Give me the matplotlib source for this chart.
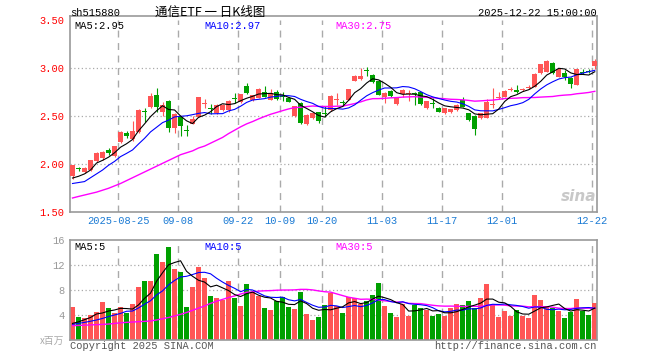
import numpy as np
import pandas as pd
import matplotlib
matplotlib.use("Agg")
import matplotlib.pyplot as plt

# trading days 2025-08-13 .. 2025-12-22 (National Day holiday closed)
dates = pd.bdate_range("2025-08-13", "2025-12-22")
dates = dates[(dates < "2025-10-01") | (dates > "2025-10-08")]

tick_days = ["2025-08-25", "2025-09-08", "2025-09-22", "2025-10-09", "2025-10-20",
             "2025-11-03", "2025-11-17", "2025-12-01", "2025-12-22"]
tick_labels = ["2025-08-25", "09-08", "09-22", "10-09", "10-20",
               "11-03", "11-17", "12-01", "12-22"]

opens = [1.875, 1.965, 1.920, 1.940, 2.035, 2.070, 2.145, 2.085, 2.230, 2.325,
         2.260, 2.340, 2.560, 2.600, 2.720, 2.540, 2.660, 2.375, 2.490, 2.360,
         2.425, 2.495, 2.625, 2.590, 2.530, 2.565, 2.565, 2.690, 2.650, 2.815,
         2.665, 2.695, 2.755, 2.675, 2.755, 2.715, 2.695, 2.500, 2.640, 2.425,
         2.480, 2.540, 2.535, 2.565, 2.670, 2.645, 2.675, 2.870, 2.890, 2.985,
         2.930, 2.870, 2.700, 2.765, 2.630, 2.730, 2.730, 2.745, 2.750, 2.585,
         2.640, 2.590, 2.530, 2.540, 2.565, 2.670, 2.530, 2.505, 2.480, 2.485,
         2.615, 2.695, 2.705, 2.770, 2.775, 2.775, 2.795, 2.810, 2.950, 2.965,
         3.060, 2.910, 2.950, 2.900, 2.830, 2.965, 2.975, 3.020]
highs = [1.995, 1.975, 1.970, 2.050, 2.125, 2.135, 2.165, 2.195, 2.345, 2.345,
         2.455, 2.575, 2.585, 2.745, 2.790, 2.650, 2.670, 2.530, 2.500, 2.410,
         2.500, 2.705, 2.680, 2.625, 2.625, 2.625, 2.665, 2.740, 2.735, 2.850,
         2.725, 2.790, 2.815, 2.780, 2.770, 2.750, 2.705, 2.610, 2.645, 2.520,
         2.530, 2.545, 2.610, 2.720, 2.740, 2.670, 2.785, 2.930, 3.000, 3.010,
         2.940, 2.875, 2.750, 2.770, 2.700, 2.780, 2.770, 2.750, 2.755, 2.660,
         2.690, 2.595, 2.590, 2.580, 2.625, 2.705, 2.535, 2.510, 2.535, 2.680,
         2.790, 2.750, 2.770, 2.810, 2.830, 2.800, 2.830, 2.950, 3.045, 3.085,
         3.065, 2.995, 2.985, 2.905, 2.995, 2.990, 2.990, 3.095]
lows = [1.850, 1.935, 1.910, 1.930, 2.025, 2.040, 2.095, 2.075, 2.220, 2.270,
        2.245, 2.330, 2.445, 2.585, 2.540, 2.500, 2.340, 2.330, 2.300, 2.300,
        2.415, 2.490, 2.590, 2.525, 2.520, 2.555, 2.550, 2.635, 2.640, 2.735,
        2.655, 2.690, 2.700, 2.670, 2.670, 2.655, 2.645, 2.490, 2.420, 2.410,
        2.470, 2.430, 2.495, 2.560, 2.615, 2.605, 2.670, 2.865, 2.880, 2.920,
        2.850, 2.720, 2.640, 2.700, 2.620, 2.700, 2.660, 2.620, 2.620, 2.580,
        2.590, 2.540, 2.520, 2.530, 2.555, 2.600, 2.455, 2.310, 2.470, 2.480,
        2.590, 2.680, 2.700, 2.760, 2.740, 2.760, 2.780, 2.805, 2.945, 2.960,
        2.945, 2.905, 2.880, 2.800, 2.825, 2.940, 2.955, 2.990]
closes = [1.990, 1.950, 1.960, 2.045, 2.120, 2.130, 2.115, 2.190, 2.335, 2.300,
          2.350, 2.570, 2.550, 2.715, 2.600, 2.615, 2.375, 2.525, 2.400, 2.350,
          2.470, 2.705, 2.635, 2.580, 2.615, 2.620, 2.660, 2.685, 2.730, 2.745,
          2.720, 2.780, 2.705, 2.745, 2.680, 2.705, 2.650, 2.605, 2.435, 2.515,
          2.530, 2.455, 2.525, 2.710, 2.680, 2.640, 2.780, 2.920, 2.920, 2.975,
          2.860, 2.720, 2.745, 2.710, 2.695, 2.775, 2.735, 2.735, 2.625, 2.655,
          2.630, 2.550, 2.585, 2.575, 2.620, 2.600, 2.460, 2.370, 2.530, 2.650,
          2.625, 2.705, 2.765, 2.780, 2.750, 2.785, 2.805, 2.945, 3.040, 3.075,
          2.950, 2.990, 2.910, 2.835, 2.990, 2.955, 2.960, 3.080]
# volume, millions
volumes = [5.38, 3.67, 3.50, 4.05, 4.47, 6.18, 5.22, 4.31, 5.38, 4.31,
           5.75, 8.58, 9.54, 9.54, 13.8, 12.58, 14.93, 11.4, 10.92, 5.38,
           8.58, 11.73, 9.97, 7.09, 6.71, 6.45, 9.54, 6.82, 5.49, 9.0,
           7.67, 7.09, 5.22, 4.85, 6.34, 7.0, 5.38, 5.01, 7.78, 4.21,
           3.25, 3.78, 5.65, 7.5, 5.49, 4.37, 6.93, 6.71, 5.86, 6.29,
           7.25, 9.17, 5.49, 4.37, 3.78, 5.86, 3.89, 5.65, 5.17, 4.9,
           3.89, 4.15, 3.89, 5.17, 5.81, 5.65, 6.29, 5.22, 6.82, 9.0,
           5.65, 3.78, 4.69, 3.89, 4.79, 3.89, 3.62, 7.25, 6.45, 5.49,
           5.11, 4.69, 3.62, 4.47, 6.61, 4.69, 4.05, 5.97]

# moving-average values at the left edge (window reaches before the first day)
ma5_head = [1.857, 1.875, 1.90, 1.94]
ma10_head = [1.80, 1.81, 1.82, 1.86, 1.90, 1.94, 1.99, 2.03, 2.08]
ma30_head = [1.649, 1.665, 1.68, 1.695, 1.71, 1.73, 1.75, 1.775, 1.80, 1.83,
             1.86, 1.89, 1.92, 1.95, 1.98, 2.01, 2.04, 2.07, 2.10, 2.12,
             2.14, 2.17, 2.19, 2.22, 2.25, 2.28, 2.32, 2.355, 2.39]
vma5_head = [2.71, 2.95, 3.3, 3.65]
vma10_head = [2.56, 2.7, 2.87, 3.05, 3.25, 3.5, 3.8, 4.05, 4.3]
vma30_head = [2.34, 2.38, 2.42, 2.46, 2.5, 2.55, 2.6, 2.7, 2.8, 2.87,
              2.92, 2.98, 3.03, 3.09, 3.25, 3.45, 3.65, 3.9, 4.15, 4.45,
              4.8, 5.15, 5.5, 5.91, 6.25, 6.55, 6.85, 7.1, 7.4]

RED = "#ff5555"
GREEN = "#00a000"
GRID = "#aaaaaa"
MONO = "Liberation Mono"
CJK = ["Noto Sans CJK SC", "DejaVu Sans"]


def moving_avg(values, head, n):
    s = pd.Series(values).rolling(n).mean().to_numpy()
    s[:len(head)] = head
    return s


opens, highs, lows, closes, volumes = map(np.array, (opens, highs, lows, closes, volumes))
n = len(closes)
x = np.arange(n)
colors = np.where(closes >= opens, RED, GREEN)
half = 2.5 / 6  # half a day slot in data units
tick_pos = [dates.get_loc(pd.Timestamp(d)) - half for d in tick_days]

W, H = 660, 360
fig = plt.figure(figsize=(W / 100, H / 100), dpi=100)


def box(x0, y0, x1, y1):
    return [x0 / W, 1 - y1 / H, (x1 - x0) / W, (y1 - y0) / H]


def ftext(xp, yp, s, **kw):
    fig.text(xp / W, 1 - yp / H, s, **kw)


ax = fig.add_axes(box(70, 16, 597.3, 212.3))
axv = fig.add_axes(box(70, 240.3, 597.3, 340.3))

for a in (ax, axv):
    for sp in a.spines.values():
        sp.set_color("#999999")
        sp.set_linewidth(1.2)
    a.set_xlim(-half, n - 1 + half)
    a.tick_params(length=0, pad=4)

# price panel
ax.set_ylim(1.5, 1.5 + (212.3 - 16) / 96)
for y in (2.0, 2.5, 3.0):
    ax.axhline(y, color=GRID, lw=0.9, ls=(0, (1, 2)), zorder=1)
ax.vlines(tick_pos, 1.5, 3.5, color=GRID, lw=1, linestyles=(0, (5, 4)), zorder=1)
ax.vlines(x, lows, highs, colors=colors, lw=0.8, zorder=2)
ax.bar(x, np.maximum(np.abs(closes - opens), 0.008), width=5 / 6,
       bottom=np.minimum(opens, closes), color=colors, linewidth=0, zorder=3)
ax.plot(x, moving_avg(closes, ma30_head, 30), color="#ff00ff", lw=1.0, zorder=4)
ax.plot(x, moving_avg(closes, ma10_head, 10), color="#0000ff", lw=0.8, zorder=4)
ax.plot(x, moving_avg(closes, ma5_head, 5), color="black", lw=0.8, zorder=5)

ax.set_yticks([1.5, 2.0, 2.5, 3.0, 3.5])
ax.set_yticklabels([f"{v:.2f}" for v in [1.5, 2.0, 2.5, 3.0, 3.5]],
                   color="#ff0000", family=MONO, fontsize=7.5)
ax.set_xticks(tick_pos)
ax.set_xticklabels(tick_labels, color="#1a7ad4", family=MONO, fontsize=7.5)
ax.tick_params(axis="x", pad=3)
ax.text(0.998, 0.08, "sina", transform=ax.transAxes, ha="right", va="center",
        fontsize=11, style="italic", weight="bold", color="#c8c8c8")

# volume panel
axv.set_ylim(0, 16)
for y in (4, 8, 12):
    axv.axhline(y, color=GRID, lw=0.9, ls=(0, (1, 2)), zorder=1)
axv.vlines(tick_pos, 0, 16, color=GRID, lw=1, linestyles=(0, (5, 4)), zorder=1)
axv.bar(x, volumes, width=5 / 6, color=colors, linewidth=0, zorder=2)
axv.plot(x, moving_avg(volumes, vma30_head, 30), color="#ff00ff", lw=1.0, zorder=3)
axv.plot(x, moving_avg(volumes, vma10_head, 10), color="#0000ff", lw=0.8, zorder=3)
axv.plot(x, moving_avg(volumes, vma5_head, 5), color="black", lw=0.8, zorder=4)
axv.set_yticks([4, 8, 12, 16])
axv.set_yticklabels(["4", "8", "12", "16"], color="#999999", family=MONO, fontsize=7.5)
axv.set_xticks([])

# header and legends
ftext(70, 13, "sh515880", family=MONO, fontsize=7.5, va="center")
ftext(210, 12.5, "通信ETF 一 日K线图", family=CJK, fontsize=9, ha="center", va="center")
ftext(597, 13, "2025-12-22 15:00:00", family=MONO, fontsize=7.5, ha="right", va="center")
ftext(74, 26, "MA5:2.95", family=MONO, fontsize=7.5, va="center", color="black")
ftext(204, 26, "MA10:2.97", family=MONO, fontsize=7.5, va="center", color="#0000ff")
ftext(335, 26, "MA30:2.75", family=MONO, fontsize=7.5, va="center", color="#ff00ff")
ftext(74, 247, "MA5:5", family=MONO, fontsize=7.5, va="center", color="black")
ftext(204, 247, "MA10:5", family=MONO, fontsize=7.5, va="center", color="#0000ff")
ftext(335, 247, "MA30:5", family=MONO, fontsize=7.5, va="center", color="#ff00ff")
ftext(64, 341, "x百万", family=CJK, fontsize=7, ha="right", va="center", color="#aaaaaa")
ftext(70, 346, "Copyright 2025 SINA.COM", family=MONO, fontsize=7.5, va="center", color="#555555")
ftext(597, 346, "http://finance.sina.com.cn", family=MONO, fontsize=7.5, ha="right",
      va="center", color="#555555")

fig.savefig("out.png", dpi=100)
